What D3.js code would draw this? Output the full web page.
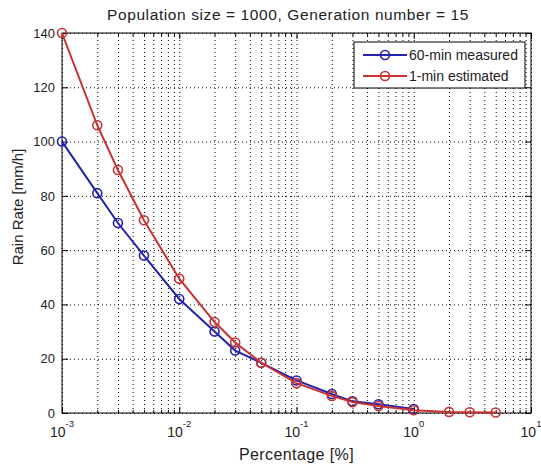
<!DOCTYPE html>
<html>
<head>
<meta charset="utf-8">
<script src="https://cdn.jsdelivr.net/npm/d3@7"></script>
<style>
  body { margin: 0; background: #fff; }
  text { font-family: "Liberation Sans", Arial, sans-serif; fill: #222; }
</style>
</head>
<body>
<div id="chart"></div>
<script>
const percentMeasured = [0.001, 0.002, 0.003, 0.005, 0.01, 0.02, 0.03, 0.05, 0.1, 0.2, 0.3, 0.5, 1];
const rainMeasured60 = [100, 81, 70, 58, 42, 30, 23, 18.5, 12, 7, 4.3, 3.2, 1.5];
const percentEstimated = [0.001, 0.002, 0.003, 0.005, 0.01, 0.02, 0.03, 0.05, 0.1, 0.2, 0.3, 0.5, 1, 2, 3, 5];
const rainEstimated1 = [140, 106, 89.5, 71, 49.5, 33.5, 26, 18.5, 11, 6.3, 4, 2.6, 1, 0.4, 0.3, 0.2];
const xMajorTicks = [0.001, 0.01, 0.1, 1, 10];
const xExponents = ["-3", "-2", "-1", "0", "1"];
const yTicks = [0, 20, 40, 60, 80, 100, 120, 140];
const legendLabels = ["60-min measured", "1-min estimated"];

const BLUE = "#2323ad";
const RED = "#c93232";

let width = 541;
let height = 466;
let margin = { top: 33, right: 10, bottom: 53, left: 62 };

let svg = d3
  .select("#chart")
  .append("svg")
  .attr("width", width)
  .attr("height", height);

let x = d3.scaleLog().domain([0.001, 10]).range([margin.left, width - margin.right]);
let y = d3.scaleLinear().domain([0, 140]).range([height - margin.bottom, margin.top]);

// minor log ticks for the grid
let xMinor = [];
for (let d = -3; d < 1; d++) {
  for (let k = 1; k < 10; k++) xMinor.push(k * Math.pow(10, d));
}
xMinor.push(10);

let plotH = y(0) - y(140);
let plotW = x(10) - x(0.001);

// dotted grid
svg.append("g")
  .attr("transform", `translate(0,${y(0)})`)
  .call(d3.axisBottom(x).tickValues(xMinor).tickSize(-plotH).tickFormat(""))
  .call(g => g.select(".domain").remove())
  .selectAll("line")
  .attr("stroke", "#000")
  .attr("stroke-dasharray", "1,3");

svg.append("g")
  .attr("transform", `translate(${x(0.001)},0)`)
  .call(d3.axisLeft(y).tickValues(yTicks).tickSize(-plotW).tickFormat(""))
  .call(g => g.select(".domain").remove())
  .selectAll("line")
  .attr("stroke", "#000")
  .attr("stroke-dasharray", "1,3");

// inward ticks on all four sides
function tickSide(axis, transform) {
  svg.append("g")
    .attr("transform", transform)
    .call(axis)
    .call(g => g.select(".domain").remove())
    .selectAll("line")
    .attr("stroke", "#000");
}
let minorOnly = xMinor.filter(v => !xMajorTicks.includes(v));
tickSide(d3.axisBottom(x).tickValues(minorOnly).tickSize(-3).tickFormat(""), `translate(0,${y(0)})`);
tickSide(d3.axisBottom(x).tickValues(xMajorTicks).tickSize(-6).tickFormat(""), `translate(0,${y(0)})`);
tickSide(d3.axisTop(x).tickValues(minorOnly).tickSize(-3).tickFormat(""), `translate(0,${y(140)})`);
tickSide(d3.axisTop(x).tickValues(xMajorTicks).tickSize(-6).tickFormat(""), `translate(0,${y(140)})`);
tickSide(d3.axisLeft(y).tickValues(yTicks).tickSize(-6).tickFormat(""), `translate(${x(0.001)},0)`);
tickSide(d3.axisRight(y).tickValues(yTicks).tickSize(-6).tickFormat(""), `translate(${x(10)},0)`);

// box
svg.append("rect")
  .attr("x", x(0.001))
  .attr("y", y(140))
  .attr("width", plotW)
  .attr("height", plotH)
  .attr("fill", "none")
  .attr("stroke", "#000")
  .attr("stroke-width", 1);

// x tick labels 10^n
let xl = svg.append("g").selectAll("text")
  .data(xMajorTicks)
  .join("text")
  .attr("x", d => x(d))
  .attr("y", y(0) + 24)
  .attr("text-anchor", "middle")
  .attr("font-size", "14px");
xl.append("tspan").text("10");
xl.append("tspan")
  .attr("dy", -10)
  .attr("font-size", "9.5px")
  .text((d, i) => xExponents[i]);

// y tick labels
svg.append("g").selectAll("text")
  .data(yTicks)
  .join("text")
  .attr("x", x(0.001) - 7)
  .attr("y", d => y(d))
  .attr("dy", "0.36em")
  .attr("text-anchor", "end")
  .attr("font-size", "13px")
  .text(d => d);

// titles
svg.append("text")
  .attr("x", 288)
  .attr("y", 20)
  .attr("text-anchor", "middle")
  .attr("font-size", "15.5px")
  .attr("letter-spacing", "0.6px")
  .text("Population size = 1000, Generation number = 15");

svg.append("text")
  .attr("x", (x(0.001) + x(10)) / 2)
  .attr("y", 460)
  .attr("text-anchor", "middle")
  .attr("font-size", "16px")
  .attr("letter-spacing", "0.4px")
  .text("Percentage [%]");

svg.append("text")
  .attr("transform", `translate(23,207) rotate(-90)`)
  .attr("text-anchor", "middle")
  .attr("font-size", "15px")
  .text("Rain Rate [mm/h]");

// series
let line = d3.line().x(d => x(d[0])).y(d => y(d[1]));

function drawSeries(xs, ys, color) {
  let pts = xs.map((v, i) => [v, ys[i]]);
  svg.append("path")
    .datum(pts)
    .attr("d", line)
    .attr("fill", "none")
    .attr("stroke", color)
    .attr("stroke-width", 2);
  svg.append("g").selectAll("circle")
    .data(pts)
    .join("circle")
    .attr("cx", d => x(d[0]))
    .attr("cy", d => y(d[1]))
    .attr("r", 4.5)
    .attr("fill", "none")
    .attr("stroke", color)
    .attr("stroke-width", 1.6);
}
drawSeries(percentMeasured, rainMeasured60, BLUE);
drawSeries(percentEstimated, rainEstimated1, RED);

// legend
let lg = svg.append("g");
lg.append("rect")
  .attr("x", 354)
  .attr("y", 42)
  .attr("width", 171)
  .attr("height", 46)
  .attr("fill", "#fff")
  .attr("stroke", "#000");
[BLUE, RED].forEach(function (c, i) {
  let yy = 55 + i * 21;
  lg.append("line")
    .attr("x1", 363).attr("x2", 407)
    .attr("y1", yy).attr("y2", yy)
    .attr("stroke", c).attr("stroke-width", 2);
  lg.append("circle")
    .attr("cx", 385).attr("cy", yy).attr("r", 4.5)
    .attr("fill", "none").attr("stroke", c).attr("stroke-width", 1.6);
  lg.append("text")
    .attr("x", 409).attr("y", yy)
    .attr("dy", "0.36em")
    .attr("font-size", "14px")
    .text(legendLabels[i]);
});
</script>
</body>
</html>
